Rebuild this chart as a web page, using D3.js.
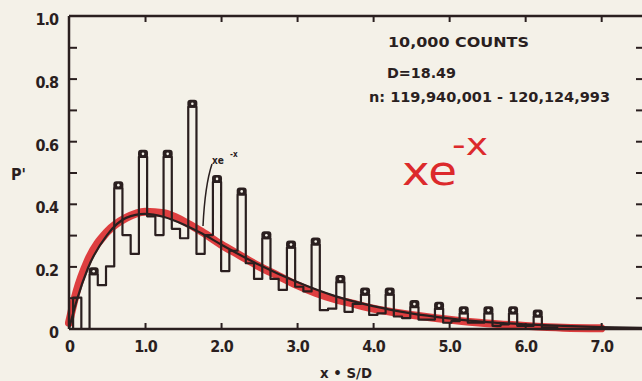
<!DOCTYPE html>
<html>
<head>
<meta charset="utf-8">
<script src="https://cdn.jsdelivr.net/npm/d3@7"></script>
<style>
  html, body { margin: 0; padding: 0; background: #f4f1e8; }
  svg { display: block; }
  text { font-family: "DejaVu Sans Condensed", "DejaVu Sans", sans-serif; font-weight: bold; fill: #2a1f1f; }
  text.hand { font-family: "DejaVu Sans", sans-serif; font-weight: normal; fill: #dc2a2c; }
</style>
</head>
<body>
<div id="chart"></div>
<script>
// even gaps S, binned at x = S/D
const D = 18.49;
const gaps = [2, 4, 6, 8, 10, 12, 14, 16, 18, 20, 22, 24, 26, 28, 30, 32, 34, 36, 38, 40,
  42, 44, 46, 48, 50, 52, 54, 56, 58, 60, 62, 64, 66, 68, 70, 72, 74, 76, 78, 80,
  82, 84, 86, 88, 90, 92, 94, 96, 98, 100, 102, 104, 106, 108, 110, 112, 114, 116, 118];
const pValues = [0.10, 0.00, 0.175, 0.14, 0.20, 0.45, 0.30, 0.24, 0.55, 0.36, 0.30, 0.55, 0.32, 0.29, 0.71, 0.24, 0.30, 0.47, 0.185, 0.25,
  0.43, 0.21, 0.16, 0.29, 0.16, 0.125, 0.26, 0.135, 0.12, 0.27, 0.06, 0.065, 0.15, 0.055, 0.08, 0.11, 0.045, 0.05, 0.11, 0.04,
  0.035, 0.07, 0.03, 0.03, 0.065, 0.02, 0.025, 0.05, 0.02, 0.02, 0.05, 0.01, 0.015, 0.05, 0.01, 0.01, 0.04, 0.005, 0.005];
const markerGaps = [6, 12, 18, 24, 30, 36, 42, 48, 54, 60, 66, 72, 78, 84, 90, 96, 102, 108, 114];

// thin black xe^-x curve
const curveX = [0, 0.1, 0.25, 0.5, 0.75, 1.0, 1.25, 1.5, 1.75, 2.0, 2.5, 3.0, 3.5, 4.0, 4.5, 5.0, 5.5, 6.0, 6.5, 7.0, 7.55];
const curveY = [0, 0.09, 0.195, 0.30, 0.355, 0.368, 0.358, 0.335, 0.305, 0.27, 0.205, 0.15, 0.105, 0.073, 0.05, 0.034, 0.022, 0.015, 0.01, 0.006, 0.004];

// red hand-drawn curve
const redX = [0, 0.1, 0.25, 0.5, 0.75, 1.0, 1.25, 1.5, 1.75, 2.0, 2.25, 2.5, 2.75, 3.0, 3.25, 3.5, 3.75, 4.0, 4.5, 5.0, 5.5, 6.0, 6.5, 7.0];
const redY = [0.02, 0.12, 0.22, 0.31, 0.355, 0.375, 0.37, 0.345, 0.31, 0.27, 0.235, 0.2, 0.17, 0.14, 0.115, 0.095, 0.08, 0.065, 0.045, 0.03, 0.018, 0.01, 0.004, 0.002];

const xTicks = [0, 1, 2, 3, 4, 5, 6, 7];
const yTicks = [0, 0.2, 0.4, 0.6, 0.8, 1.0];
const yMinor = [0.1, 0.2, 0.3, 0.4, 0.5, 0.6, 0.7, 0.8, 0.9];

const W = 642, H = 381;
const ink = "#2a1f1f";
const red = "#dc2a2c";
const paper = "#f4f1e8";

const svg = d3.select("#chart").append("svg")
  .attr("width", W)
  .attr("height", H);

const x = d3.scaleLinear().domain([0, 7.55]).range([69, 643]);
const y = d3.scaleLinear().domain([0, 1]).range([329, 16]);

const lineXY = d3.line()
  .x(d => x(d[0]))
  .y(d => y(d[1]))
  .curve(d3.curveMonotoneX);

// red curve under everything
svg.append("path")
  .datum(d3.zip(redX, redY))
  .attr("fill", "none")
  .attr("stroke", red)
  .attr("stroke-width", 8)
  .attr("stroke-linecap", "round")
  .attr("opacity", 0.9)
  .attr("d", lineXY);

// histogram outline
const steps = [[(gaps[0] - 1) / D, 0]];
gaps.forEach((g, i) => steps.push([(g - 1) / D, pValues[i]]));
steps.push([(gaps[gaps.length - 1] + 1) / D, pValues[pValues.length - 1]]);

svg.append("path")
  .datum(steps)
  .attr("fill", "none")
  .attr("stroke", ink)
  .attr("stroke-width", 2.2)
  .attr("stroke-linejoin", "round")
  .attr("d", d3.line().x(d => x(d[0])).y(d => y(d[1])).curve(d3.curveStepAfter));

// black theory curve
svg.append("path")
  .datum(d3.zip(curveX, curveY))
  .attr("fill", "none")
  .attr("stroke", ink)
  .attr("stroke-width", 2.2)
  .attr("d", lineXY);

// markers on the spikes
const marks = svg.append("g");
markerGaps.forEach(g => {
  const v = pValues[gaps.indexOf(g)];
  const cx = x(g / D), cy = y(v) - 3;
  marks.append("rect")
    .attr("x", cx - 5).attr("y", cy - 4)
    .attr("width", 10).attr("height", 8)
    .attr("rx", 3)
    .attr("fill", ink);
  marks.append("circle")
    .attr("cx", cx).attr("cy", cy).attr("r", 1.3)
    .attr("fill", paper);
});

// frame
const frame = svg.append("g").attr("stroke", ink).attr("stroke-width", 2.5).attr("fill", "none");
frame.append("line").attr("x1", x(0)).attr("x2", x(0)).attr("y1", y(1)).attr("y2", y(0));
frame.append("line").attr("x1", x(0)).attr("x2", W).attr("y1", y(1)).attr("y2", y(1));
frame.append("line").attr("x1", x(0)).attr("x2", W).attr("y1", y(0)).attr("y2", y(0));

// tick marks
function styleTicks(g) {
  g.select(".domain").remove();
  g.selectAll("line").attr("stroke", ink).attr("stroke-width", 2);
  g.selectAll("text").remove();
}
svg.append("g").attr("transform", `translate(${x(0)},0)`)
  .call(d3.axisRight(y).tickValues(yMinor).tickSize(8)).call(styleTicks);
svg.append("g").attr("transform", `translate(643,0)`)
  .call(d3.axisLeft(y).tickValues(yMinor).tickSize(7)).call(styleTicks);
svg.append("g").attr("transform", `translate(0,${y(0)})`)
  .call(d3.axisTop(x).tickValues(xTicks.slice(1)).tickSize(6)).call(styleTicks);
svg.append("g").attr("transform", `translate(0,${y(1)})`)
  .call(d3.axisBottom(x).tickValues(xTicks.slice(1)).tickSize(6)).call(styleTicks);

// tick labels
const fmt = d => d === 0 ? "0" : d3.format(".1f")(d);
const xAxis = svg.append("g").attr("transform", `translate(0,${y(0)})`)
  .call(d3.axisBottom(x).tickValues(xTicks).tickFormat(fmt).tickSize(0).tickPadding(11.5));
xAxis.select(".domain").remove();
xAxis.selectAll("text").attr("font-size", 16).attr("letter-spacing", -1);

const yAxis = svg.append("g").attr("transform", `translate(${x(0)},0)`)
  .call(d3.axisLeft(y).tickValues(yTicks).tickFormat(fmt).tickSize(0).tickPadding(11));
yAxis.select(".domain").remove();
yAxis.selectAll("text").attr("font-size", 16).attr("dy", "0.55em").attr("letter-spacing", -1);
svg.selectAll(".tick text").attr("font-family", null).attr("fill", ink);

svg.append("text").attr("x", 11).attr("y", 180).attr("font-size", 16).text("P'");

svg.append("text").attr("x", 320).attr("y", 378).attr("font-size", 14)
  .attr("textLength", 52).attr("lengthAdjust", "spacingAndGlyphs").text("x • S/D");

// annotation block
svg.append("text").attr("x", 388).attr("y", 47).attr("font-size", 14)
  .attr("textLength", 141).attr("lengthAdjust", "spacingAndGlyphs").text("10,000 COUNTS");
svg.append("text").attr("x", 387).attr("y", 78).attr("font-size", 14)
  .attr("textLength", 69).attr("lengthAdjust", "spacingAndGlyphs").text("D=18.49");
svg.append("text").attr("x", 369).attr("y", 102).attr("font-size", 14)
  .attr("textLength", 241).attr("lengthAdjust", "spacingAndGlyphs").text("n: 119,940,001 - 120,124,993");

// small curve label with leader
svg.append("text").attr("x", 212).attr("y", 164).attr("font-size", 10).text("xe");
svg.append("text").attr("x", 230).attr("y", 157).attr("font-size", 8).text("-x");
svg.append("path")
  .attr("d", "M212,164 Q205,185 203,226")
  .attr("fill", "none").attr("stroke", ink).attr("stroke-width", 1.5);

// red handwritten label
svg.append("text").attr("class", "hand").attr("x", 402).attr("y", 185).attr("font-size", 40)
  .attr("textLength", 55).attr("lengthAdjust", "spacingAndGlyphs").text("xe");
svg.append("text").attr("class", "hand").attr("x", 452).attr("y", 155).attr("font-size", 30)
  .attr("textLength", 36).attr("lengthAdjust", "spacingAndGlyphs").text("-x");
</script>
</body>
</html>
